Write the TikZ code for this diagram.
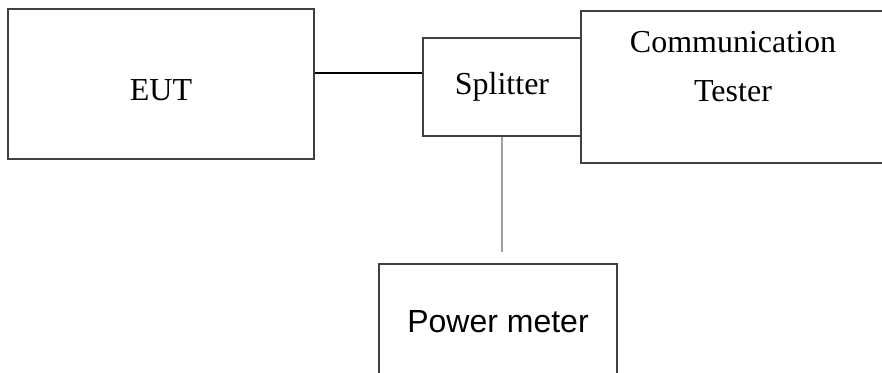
\documentclass[tikz,border=0pt]{standalone}
\usepackage{fontspec}
\setmainfont{Liberation Serif}
\setsansfont{Liberation Sans}
\usepackage{tikz}
\usetikzlibrary{positioning,calc}

\tikzset{
  unit/.style={draw=black!75, line width=1pt, inner sep=0pt, font=\fontsize{16}{24.5}\selectfont},
  link/.style={black, line width=0.7pt},
  feed/.style={gray!75, line width=1pt}
}

\begin{document}
\begin{tikzpicture}[x=0.5pt, y=-0.5pt]
\clip (0,0) rectangle (882,372);

% === TOP ROW: EUT, Splitter, Tester ===
\node[unit, minimum width=153pt, minimum height=75pt, text height=16.6pt, text depth=0pt] (eut) at (161, 84) {EUT};
\node[unit, minimum width=79pt, minimum height=49pt] (splitter) at (502, 87) {Splitter};
\node[unit, minimum width=157pt, minimum height=76pt,
      label={[anchor=north, inner sep=0pt, align=center, yshift=-10.5pt, xshift=-2.5pt,
              font=\fontsize{16}{24.5}\selectfont]north:Communication\\Tester}] (tester) at (738, 87) {};

% === BOTTOM: Power meter ===
\node[unit, font=\sffamily\fontsize{16}{19}\selectfont, minimum width=119pt, minimum height=58pt] (meter) at (498, 322) {Power meter};

% connectors
\coordinate (tap) at (0, 73);
\draw[link] (eut.east |- tap) -- (splitter.west |- tap);
\draw[feed] (splitter.south) -- ([yshift=5.5pt]meter.north -| splitter.south);

\end{tikzpicture}
\end{document}
